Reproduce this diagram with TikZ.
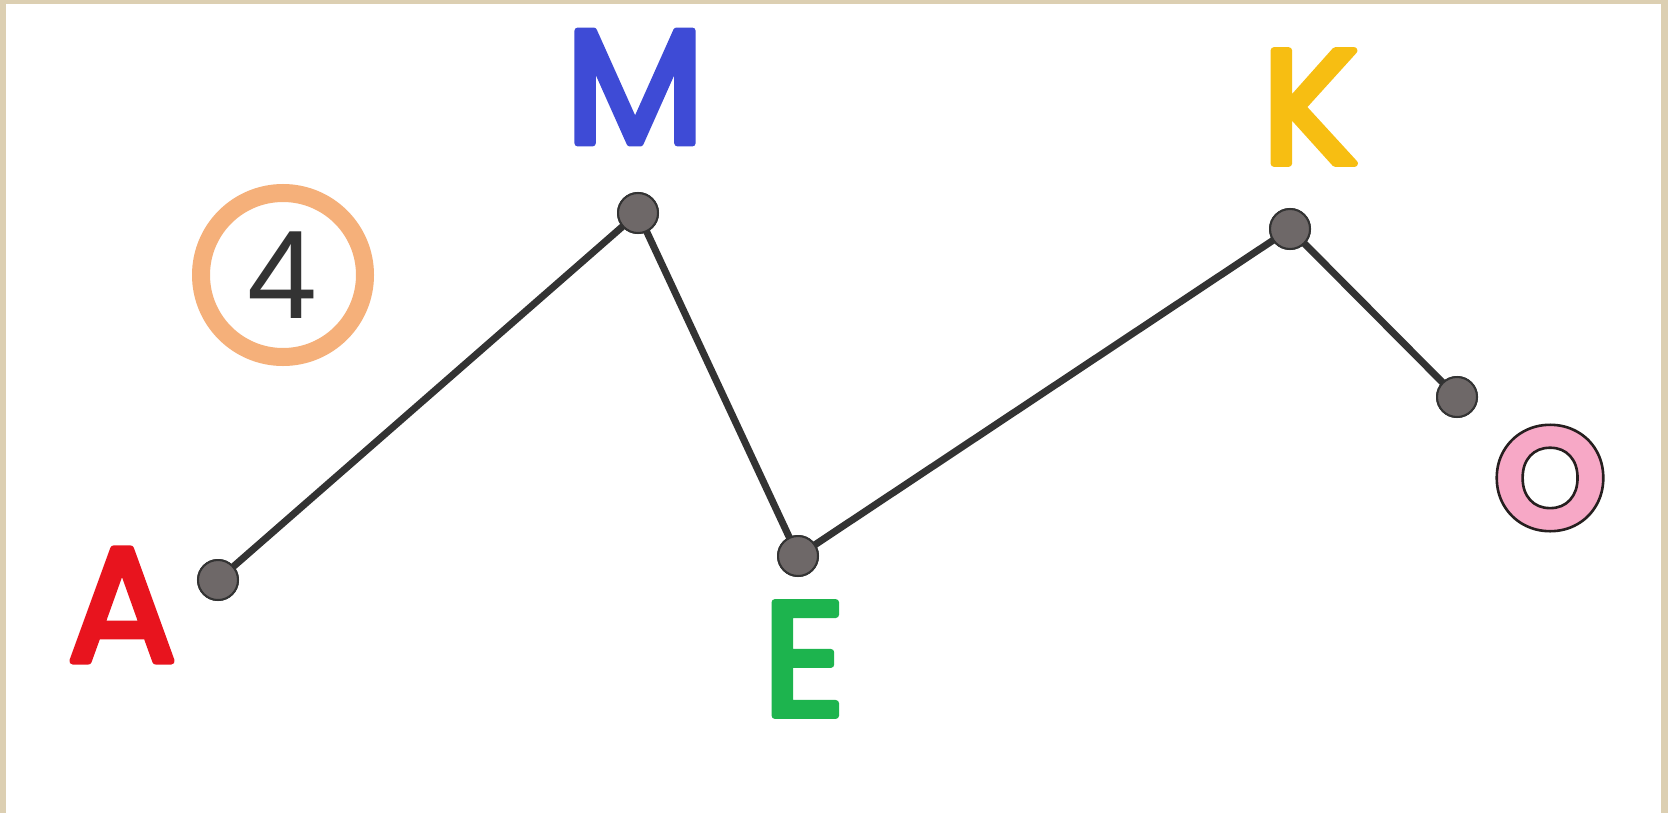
\documentclass[tikz,border=0pt]{standalone}
\usepackage{fontspec}
\setmainfont{Poppins}
\newfontfamily\digitfont{Liberation Sans}
\definecolor{frametan}{HTML}{DCCFB2}
\definecolor{lettA}{HTML}{E8141E}
\definecolor{lettM}{HTML}{3E4BD6}
\definecolor{lettE}{HTML}{1DB44E}
\definecolor{lettK}{HTML}{F7BE12}
\definecolor{lettO}{HTML}{F7A8C6}
\definecolor{ringorange}{HTML}{F5B07A}
\definecolor{dotgray}{HTML}{6E6868}
\definecolor{linegray}{HTML}{333333}
% rounded, thickened glyphs: fill and stroke in the current colour
\newcommand\roundglyph[1]{\special{pdf:literal direct 2 Tr 1 j 1 J 3.4 w}#1\special{pdf:literal direct 0 Tr}}
\tikzset{
  vertex/.style={circle, fill=dotgray, draw=linegray, line width=1pt, minimum size=20pt, inner sep=0pt},
  seg/.style={draw=linegray, line width=3.5pt},
  letter/.style={inner sep=0pt, font=\fontsize{81}{81}\selectfont},
  numring/.style={circle, draw=ringorange, line width=9pt, minimum size=82pt, inner sep=0pt,
    font=\digitfont\fontsize{63}{63}\selectfont, text=black!80}
}
\begin{document}
\begin{tikzpicture}[x=0.5pt, y=-0.5pt]
\useasboundingbox (0,0) rectangle (1668,813);
\fill[frametan] (0,0) rectangle (1668,813);
\fill[white] (6,4) rectangle (1661,813);
% vertices
\node[vertex] (pA) at (218,580) {};
\node[vertex] (pM) at (638,213) {};
\node[vertex] (pE) at (798,556) {};
\node[vertex] (pK) at (1290,229) {};
\node[vertex] (pO) at (1457,397) {};
% segments
\draw[seg] (pA.center) -- (pM.center) -- (pE.center) -- (pK.center) -- (pO.center);
% dots on top of the segments
\node[vertex] at (pA) {};
\node[vertex] at (pM) {};
\node[vertex] at (pE) {};
\node[vertex] at (pK) {};
\node[vertex] at (pO) {};
% letters
\node[letter, text=lettA] (lA) at (122,605) {\roundglyph{A}};
\node[letter, text=lettM] (lM) at (635,87) {\roundglyph{M}};
\node[letter, text=lettE] (lE) at (804,659) {\roundglyph{E}};
\node[letter, text=lettK] (lK) at (1310,107) {\roundglyph{K}};
\node[inner sep=0pt, font=\fontsize{74}{74}\selectfont\bfseries] (lO) at (1550,478)
  {\color{lettO}\special{pdf:literal direct 2 Tr 0.15 0.12 0.12 RG 1.3 w}O\special{pdf:literal direct 0 Tr}};
% number ring
\node[numring] (n4) at (283,275) {4};
\end{tikzpicture}
\end{document}
